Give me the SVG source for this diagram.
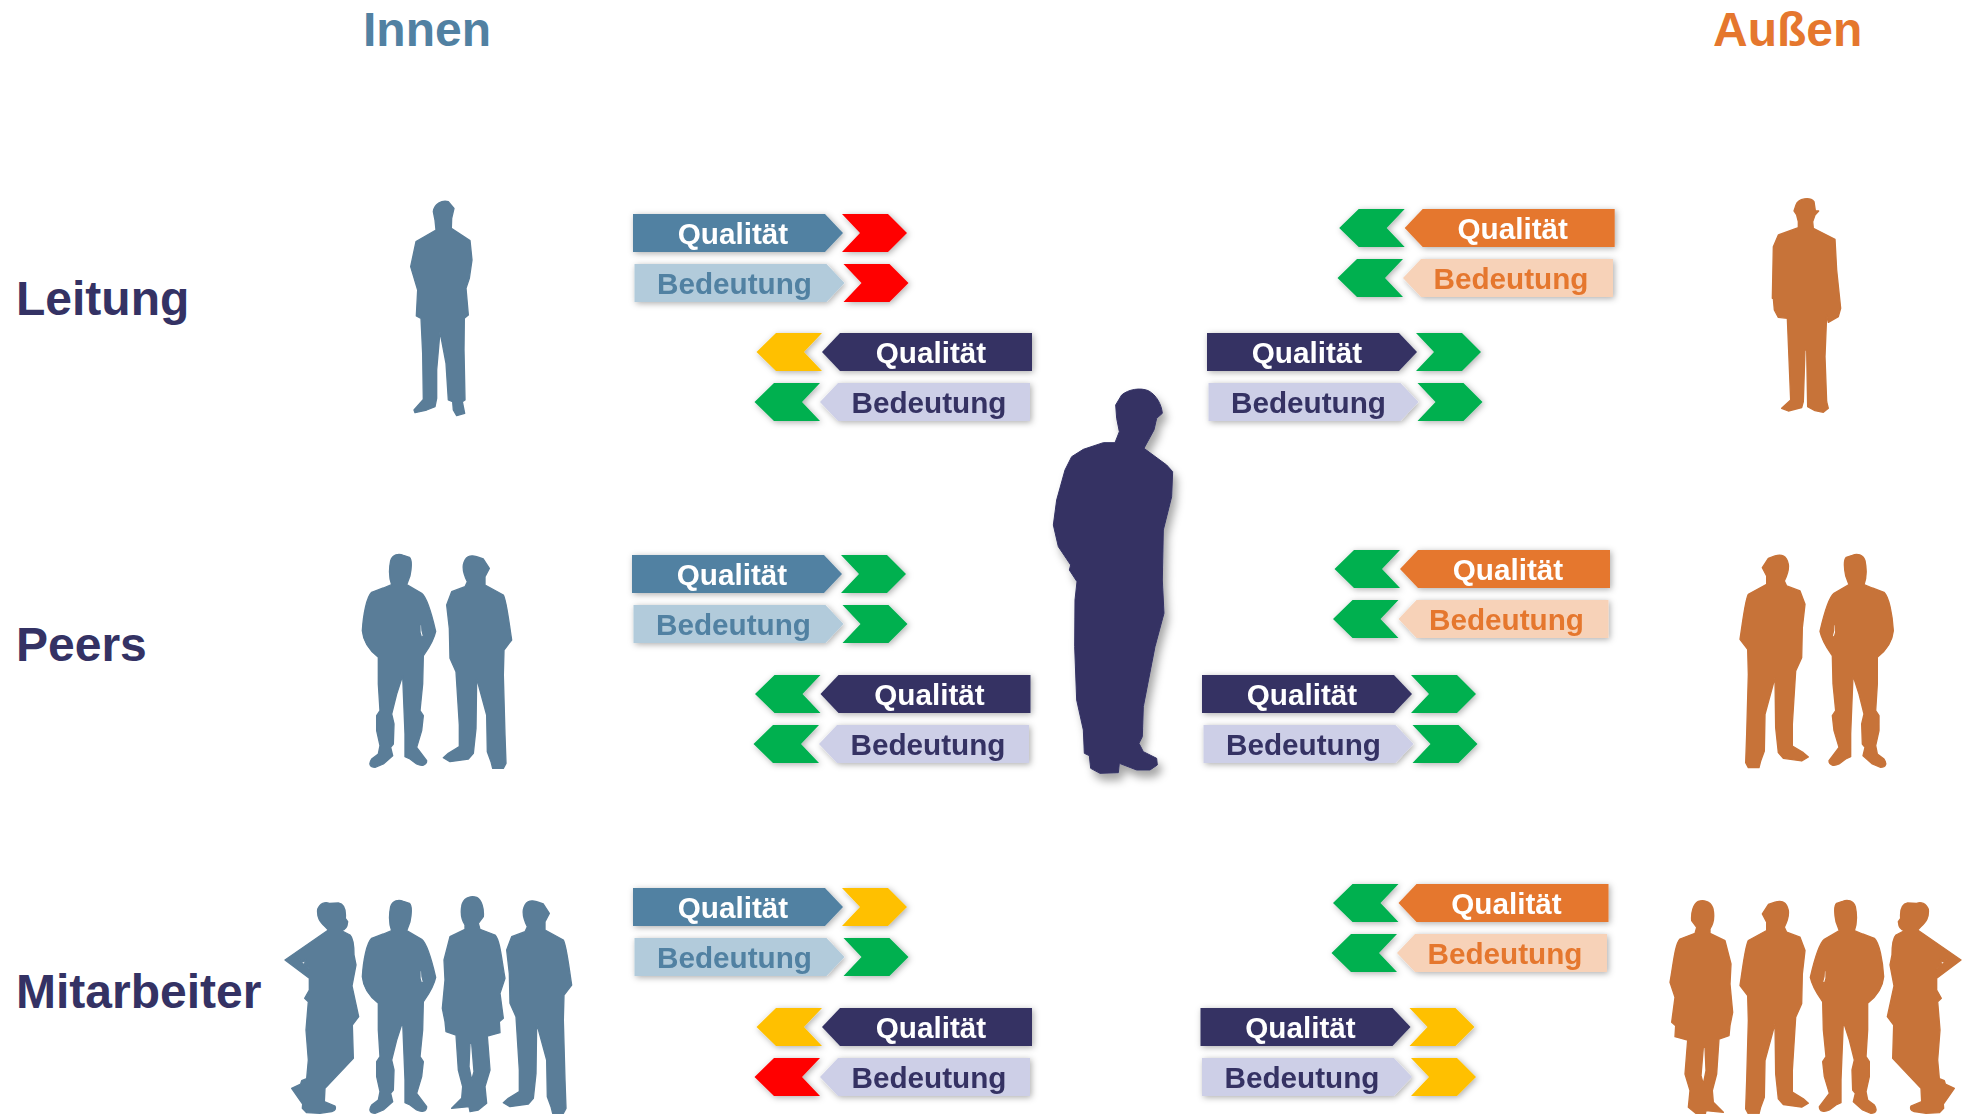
<svg xmlns="http://www.w3.org/2000/svg" xmlns:xlink="http://www.w3.org/1999/xlink" width="1975" height="1114" viewBox="0 0 1975 1114">
<style>
text{font-family:"Liberation Sans",Arial,sans-serif;font-weight:700}
.tl{font-size:29.7px;text-anchor:middle}
.h{font-size:48px}
.r{font-size:48px;fill:#343264}
.w{fill:#fff}
.fb{fill:#5a7d98;stroke:#5a7d98;stroke-width:4;stroke-linejoin:round}
.fo{fill:#c77339;stroke:#c77339;stroke-width:4;stroke-linejoin:round}
.fn{fill:#343264;stroke:#343264;stroke-width:3;stroke-linejoin:round}
.b1{fill:#5181a2}.b2{fill:#b2cbdb}.tb{fill:#5181a2}
.n1{fill:#343264}.n2{fill:#cdcfe7}.tn{fill:#343264}
.o1{fill:#e5772e}.o2{fill:#f7d2b8}.to{fill:#e5772e}
.red{fill:#ff0000}.grn{fill:#00b050}.amb{fill:#ffc000}
.sh{filter:url(#s)}
</style>
<defs>
<filter id="s" x="-15%" y="-40%" width="130%" height="190%"><feDropShadow dx="1.5" dy="1.5" stdDeviation="3" flood-color="#000" flood-opacity=".32"/></filter>
<filter id="sb" x="-15%" y="-10%" width="140%" height="120%"><feDropShadow dx="12" dy="21" stdDeviation="12" flood-color="#000" flood-opacity=".35"/></filter>
<polygon id="tagR" points="0,0 192,0 210,19 192,38 0,38"/>
<polygon id="chevR" points="209,0 255,0 274,19 255,38 209,38 227,19"/>
<polygon id="tagL" points="0,0 -192,0 -210,19 -192,38 0,38"/>
<polygon id="chevL" points="-210,0 -256,0 -275.5,19 -256,38 -210,38 -228,19"/>
<path id="manA" fill-rule="evenodd" d="M362,80C368,62 385,58 400,64L418,70C428,80 424,105 420,125L410,152L455,178C470,190 485,240 497,292C490,325 470,350 460,365L458,450L450,530L460,545L455,590L440,640L470,680C470,695 455,697 440,690L420,675L405,668L405,600L398,425L380,480L365,540L372,570L370,630L362,640L368,665L340,690L315,700C300,700 295,690 305,675L325,660L330,635L320,590L320,545L330,530L325,450L325,370C300,350 280,325 277,290C280,240 290,190 305,175L340,162L365,152C355,125 358,100 362,80ZM450,272L455,272L456,290L460,305L455,312L450,295Z"/>
<path id="manB" d="M760,90C765,65 780,58 800,65L820,72L838,100L825,125L825,150L880,180C890,200 895,250 905,315L882,345L880,420L885,600L888,685L880,700L848,700L843,680L832,650L830,540L800,430L798,580L790,655L775,672L720,680L700,668L715,655L748,635L748,570L738,410L720,370L718,280L710,210L725,170L765,155L772,140C762,120 758,105 760,90Z"/>
<path id="womC" fill-rule="evenodd" d="M143,88C150,70 165,65 178,70L205,69C222,72 228,90 226,115L233,125C232,140 225,150 214,152L240,165C250,175 252,200 252,225L258,255L246,318L266,410L247,435L250,535L165,625L163,665L195,678C200,690 190,696 175,696L150,700L110,698L97,685L98,672L65,625L92,612L95,602L110,596L115,540L108,450L115,365L104,355L118,330L118,295L45,240L175,150C155,128 140,120 143,88ZM85,238L100,245L108,238L104,250L120,268L100,252Z"/>
<path id="womD" fill-rule="evenodd" d="M575,80C578,55 600,45 620,52C635,60 642,85 640,110L625,130L630,148L675,165C690,180 695,240 705,295L690,340L700,415L688,425L690,458L652,468L660,570L645,620L650,670L625,690L600,695L597,680L545,685L575,655L578,620L565,570L558,465L528,455L525,425L517,385L525,300L522,240L540,170L585,148L585,135C575,120 572,100 575,80ZM600,490L597,560L605,600L612,575L605,490Z"/>
</defs>
<rect width="1975" height="1114" fill="#fff"/>

<text class="h b1" x="363" y="46">Innen</text>
<text class="h o1" x="1713" y="46">Außen</text>
<text class="r" x="16" y="315">Leitung</text>
<text class="r" x="16" y="661">Peers</text>
<text class="r" x="16" y="1008">Mitarbeiter</text>

<g id="person-center"><path class="fn" filter="url(#sb)" transform="translate(1000 360) scale(.33333)" d="M347,135L365,105C385,88 420,82 445,92C470,105 485,135 487,160L470,175L462,210L432,265L500,315L518,335L515,410L490,510L487,660L492,760L465,860L430,1040L427,1130L417,1150L430,1175L470,1195L472,1215L450,1230L410,1230L358,1210L355,1238L300,1240L272,1225L268,1187L253,1180L250,1110L230,1020L224,860L225,720L231,665L208,630L212,615L175,560L160,495L170,420L195,330L215,290L250,268L310,248L345,248L358,215L350,175Z"/></g>

<g id="innen-leitung"><path class="fb" transform="translate(340 190) scale(.33333)" d="M280,65C283,42 305,30 325,35L342,55L335,85L334,115L390,152L396,210L388,265L378,295L385,375L373,385L372,480L375,630L367,635L374,670L350,677L340,660L338,635L325,630L318,520L300,425L290,540L290,625L285,650L260,660L225,668L222,660L250,628L248,490L243,385L229,378L233,300L212,230L228,155L262,135L288,120L285,90Z"/></g>
<g id="innen-peers" class="fb">
<use href="#manA" transform="translate(270 534) scale(.33333)"/>
<use href="#manB" transform="translate(210 535) scale(.33333)"/>
</g>
<g id="innen-mitarbeiter" class="fb" transform="translate(270 880) scale(.33333)">
<use href="#womC"/><use href="#manA"/><use href="#womD"/><use href="#manB"/>
</g>

<g id="aussen-leitung"><path class="fo" transform="translate(1740 180) scale(.33333)" d="M168,75C175,55 210,50 222,65L226,92L236,93L225,105L218,125L220,145L285,178L290,270L302,385L295,410L265,427L260,405L255,530L260,665L265,685L250,697L225,692L203,680L200,510L195,510L190,665L185,683L145,693L125,685L152,660L142,415L115,412L103,390L100,355L97,355L100,200L115,165L175,143L175,125L170,105L162,93Z"/></g>
<g id="aussen-peers" class="fo">
<use href="#manB" transform="translate(2041.67 534.3) scale(-.33333 .33333)"/>
<use href="#manA" transform="translate(1985.67 534) scale(-.33333 .33333)"/>
</g>
<g id="aussen-mitarbeiter" class="fo">
<use href="#womD" transform="translate(1905 884) scale(-.33333 .33333)"/>
<use href="#manB" transform="translate(2041.67 880.5) scale(-.33333 .33333)"/>
<use href="#manA" transform="translate(1976 880) scale(-.33333 .33333)"/>
<use href="#womC" transform="translate(1976 880) scale(-.33333 .33333)"/>
</g>

<g id="innen-leitung-q" class="sh" transform="translate(633 214)"><use href="#tagR" class="b1"/><use href="#chevR" class="red"/><text class="tl w" x="100" y="29.7">Qualität</text></g>
<g id="innen-leitung-b" class="sh" transform="translate(634.5 264)"><use href="#tagR" class="b2"/><use href="#chevR" class="red"/><text class="tl tb" x="100" y="29.7">Bedeutung</text></g>
<g id="innen-peers-q" class="sh" transform="translate(632 555)"><use href="#tagR" class="b1"/><use href="#chevR" class="grn"/><text class="tl w" x="100" y="29.7">Qualität</text></g>
<g id="innen-peers-b" class="sh" transform="translate(633.5 605)"><use href="#tagR" class="b2"/><use href="#chevR" class="grn"/><text class="tl tb" x="100" y="29.7">Bedeutung</text></g>
<g id="innen-mit-q" class="sh" transform="translate(633 888)"><use href="#tagR" class="b1"/><use href="#chevR" class="amb"/><text class="tl w" x="100" y="29.7">Qualität</text></g>
<g id="innen-mit-b" class="sh" transform="translate(634.5 938)"><use href="#tagR" class="b2"/><use href="#chevR" class="grn"/><text class="tl tb" x="100" y="29.7">Bedeutung</text></g>

<g id="cl-leitung-q" class="sh" transform="translate(1032 333)"><use href="#tagL" class="n1"/><use href="#chevL" class="amb"/><text class="tl w" x="-101" y="29.7">Qualität</text></g>
<g id="cl-leitung-b" class="sh" transform="translate(1030 383)"><use href="#tagL" class="n2"/><use href="#chevL" class="grn"/><text class="tl tn" x="-101" y="29.7">Bedeutung</text></g>
<g id="cl-peers-q" class="sh" transform="translate(1030.5 675)"><use href="#tagL" class="n1"/><use href="#chevL" class="grn"/><text class="tl w" x="-101" y="29.7">Qualität</text></g>
<g id="cl-peers-b" class="sh" transform="translate(1029 725)"><use href="#tagL" class="n2"/><use href="#chevL" class="grn"/><text class="tl tn" x="-101" y="29.7">Bedeutung</text></g>
<g id="cl-mit-q" class="sh" transform="translate(1032 1008)"><use href="#tagL" class="n1"/><use href="#chevL" class="amb"/><text class="tl w" x="-101" y="29.7">Qualität</text></g>
<g id="cl-mit-b" class="sh" transform="translate(1030 1058)"><use href="#tagL" class="n2"/><use href="#chevL" class="red"/><text class="tl tn" x="-101" y="29.7">Bedeutung</text></g>

<g id="cr-leitung-q" class="sh" transform="translate(1207 333)"><use href="#tagR" class="n1"/><use href="#chevR" class="grn"/><text class="tl w" x="100" y="29.7">Qualität</text></g>
<g id="cr-leitung-b" class="sh" transform="translate(1208.5 383)"><use href="#tagR" class="n2"/><use href="#chevR" class="grn"/><text class="tl tn" x="100" y="29.7">Bedeutung</text></g>
<g id="cr-peers-q" class="sh" transform="translate(1202 675)"><use href="#tagR" class="n1"/><use href="#chevR" class="grn"/><text class="tl w" x="100" y="29.7">Qualität</text></g>
<g id="cr-peers-b" class="sh" transform="translate(1203.5 725)"><use href="#tagR" class="n2"/><use href="#chevR" class="grn"/><text class="tl tn" x="100" y="29.7">Bedeutung</text></g>
<g id="cr-mit-q" class="sh" transform="translate(1200.5 1008)"><use href="#tagR" class="n1"/><use href="#chevR" class="amb"/><text class="tl w" x="100" y="29.7">Qualität</text></g>
<g id="cr-mit-b" class="sh" transform="translate(1202 1058)"><use href="#tagR" class="n2"/><use href="#chevR" class="amb"/><text class="tl tn" x="100" y="29.7">Bedeutung</text></g>

<g id="aussen-leitung-q" class="sh" transform="translate(1614.7 209)"><use href="#tagL" class="o1"/><use href="#chevL" class="grn"/><text class="tl w" x="-102" y="29.7">Qualität</text></g>
<g id="aussen-leitung-b" class="sh" transform="translate(1613 259)"><use href="#tagL" class="o2"/><use href="#chevL" class="grn"/><text class="tl to" x="-102" y="29.7">Bedeutung</text></g>
<g id="aussen-peers-q" class="sh" transform="translate(1610 550)"><use href="#tagL" class="o1"/><use href="#chevL" class="grn"/><text class="tl w" x="-102" y="29.7">Qualität</text></g>
<g id="aussen-peers-b" class="sh" transform="translate(1608.5 600)"><use href="#tagL" class="o2"/><use href="#chevL" class="grn"/><text class="tl to" x="-102" y="29.7">Bedeutung</text></g>
<g id="aussen-mit-q" class="sh" transform="translate(1608.5 884)"><use href="#tagL" class="o1"/><use href="#chevL" class="grn"/><text class="tl w" x="-102" y="29.7">Qualität</text></g>
<g id="aussen-mit-b" class="sh" transform="translate(1607 934)"><use href="#tagL" class="o2"/><use href="#chevL" class="grn"/><text class="tl to" x="-102" y="29.7">Bedeutung</text></g>
</svg>
